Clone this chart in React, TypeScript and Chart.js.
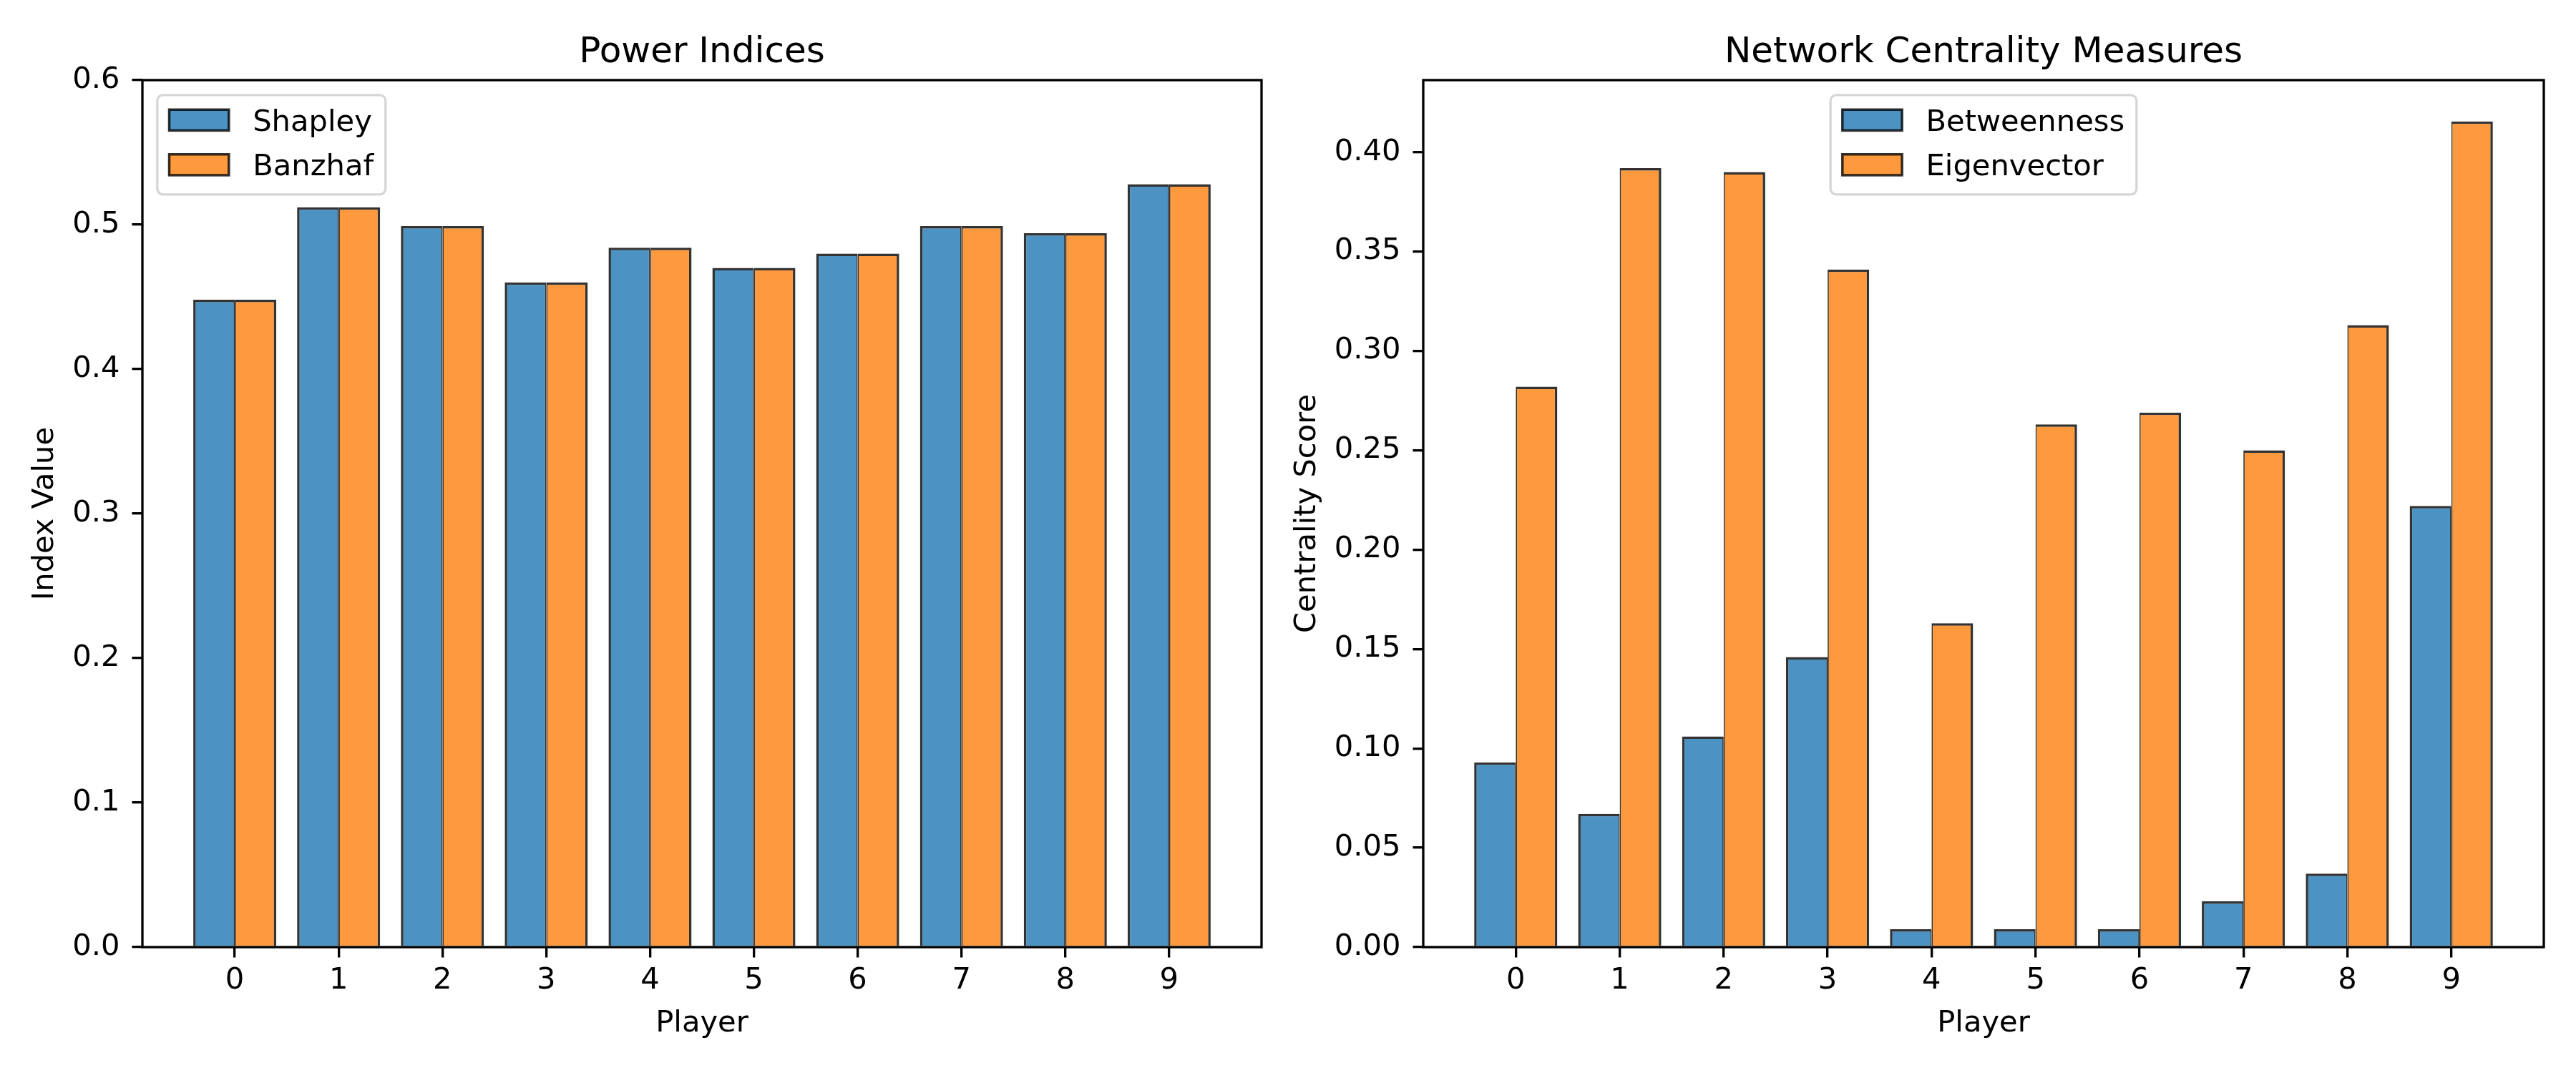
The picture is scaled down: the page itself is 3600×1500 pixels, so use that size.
import React, { useEffect, useRef } from "react";
import { Chart, registerables } from "chart.js";

Chart.register(...registerables);

// ---------- data ----------
const players = ["0", "1", "2", "3", "4", "5", "6", "7", "8", "9"];
const shapley = [0.448, 0.512, 0.499, 0.46, 0.484, 0.47, 0.48, 0.499, 0.494, 0.528];
const banzhaf = [0.448, 0.512, 0.499, 0.46, 0.484, 0.47, 0.48, 0.499, 0.494, 0.528];
const betweenness = [0.093, 0.067, 0.106, 0.146, 0.009, 0.009, 0.009, 0.023, 0.037, 0.222];
const eigenvector = [0.282, 0.392, 0.39, 0.341, 0.163, 0.263, 0.269, 0.25, 0.313, 0.4155];

// ---------- style ----------
const FONT = '"DejaVu Sans", sans-serif';
const EM = 41.67; // 10pt at 300dpi
const TITLE_PX = 50; // 12pt at 300dpi
const BLUE = "rgba(31,119,180,0.8)";
const ORANGE = "rgba(255,127,14,0.8)";
const EDGE = "rgba(0,0,0,0.8)";
const SPINE = 3.33;

Chart.defaults.font.family = FONT;
Chart.defaults.color = "#000";

type PanelSpec = {
  title: string;
  yTitle: string;
  labels: [string, string];
  values: [number[], number[]];
  yMax: number;
  yStep: number;
  yDecimals: number;
  legendAlign: "left" | "center";
  padRight: number;
  yAxisWidth: number;
  yTitlePad: number;
};

function decorPlugin(spec: PanelSpec) {
  return {
    id: "mplDecor",
    afterDatasetsDraw(chart: any) {
      const { ctx, chartArea: ca } = chart;
      ctx.save();
      ctx.strokeStyle = "#000";
      ctx.lineWidth = SPINE;
      ctx.strokeRect(ca.left, ca.top, ca.right - ca.left, ca.bottom - ca.top);
      ctx.restore();
    },
    afterDraw(chart: any) {
      const { ctx, chartArea: ca } = chart;
      ctx.save();
      // title
      ctx.fillStyle = "#000";
      ctx.font = `${TITLE_PX}px ${FONT}`;
      ctx.textAlign = "center";
      ctx.textBaseline = "alphabetic";
      ctx.fillText(spec.title, (ca.left + ca.right) / 2, ca.top - 25);

      // legend
      ctx.font = `${EM}px ${FONT}`;
      const dsets = chart.data.datasets;
      const tw = Math.max(...dsets.map((d: any) => ctx.measureText(d.label).width));
      const w = 0.4 * EM + 2 * EM + 0.8 * EM + tw + 0.4 * EM;
      const h = 139;
      const x0 = spec.legendAlign === "left" ? ca.left + 0.5 * EM : (ca.left + ca.right) / 2 - w / 2;
      const y0 = ca.top + 0.5 * EM;
      ctx.beginPath();
      (ctx as any).roundRect(x0, y0, w, h, 8);
      ctx.fillStyle = "rgba(255,255,255,0.8)";
      ctx.fill();
      ctx.strokeStyle = "rgba(204,204,204,0.8)";
      ctx.lineWidth = SPINE;
      ctx.stroke();
      dsets.forEach((d: any, i: number) => {
        const cy = y0 + 35 + i * 62.5;
        const px = x0 + 0.4 * EM;
        const ph = 0.7 * EM;
        ctx.fillStyle = d.backgroundColor;
        ctx.fillRect(px, cy - ph / 2, 2 * EM, ph);
        ctx.strokeStyle = d.borderColor;
        ctx.lineWidth = 3.5;
        ctx.strokeRect(px, cy - ph / 2, 2 * EM, ph);
        ctx.fillStyle = "#000";
        ctx.textAlign = "left";
        ctx.textBaseline = "alphabetic";
        ctx.fillText(d.label, px + 2.8 * EM, cy + 14.7);
      });
      ctx.restore();
    },
  };
}

function buildConfig(spec: PanelSpec): any {
  const font = { size: EM, family: FONT };
  const gridCommon = {
    drawOnChartArea: false,
    drawTicks: true,
    tickLength: 14.5,
    lineWidth: SPINE,
    color: "#000",
    tickColor: "#000",
    offset: false,
  };
  return {
    type: "bar",
    data: {
      datasets: [0, 1].map((k) => ({
        label: spec.labels[k],
        data: spec.values[k].map((v, i) => ({ x: i, y: v })),
        backgroundColor: k === 0 ? BLUE : ORANGE,
        borderColor: EDGE,
        borderWidth:
          k === 0
            ? { top: 3.5, left: 3.5, right: 1.75, bottom: 0 }
            : { top: 3.5, left: 1.75, right: 3.5, bottom: 0 },
        borderSkipped: false,
        categoryPercentage: 0.8,
        barPercentage: 1.0,
      })),
    },
    options: {
      responsive: false,
      animation: false,
      devicePixelRatio: 1,
      layout: { padding: { left: 0, right: spec.padRight, top: 112, bottom: 44 } },
      plugins: {
        legend: { display: false },
        title: { display: false },
        tooltip: { enabled: false },
      },
      scales: {
        x: {
          type: "linear",
          min: -0.89,
          max: 9.89,
          offset: false,
          afterBuildTicks: (s: any) => {
            s.ticks = players.map((_, i) => ({ value: i }));
          },
          afterFit: (s: any) => {
            s.height = 132;
          },
          grid: gridCommon,
          border: { display: false },
          ticks: {
            callback: (_v: any, i: number) => players[i],
            padding: 7.5,
            color: "#000",
            font,
            maxRotation: 0,
            autoSkip: false,
          },
          title: { display: true, text: "Player", color: "#000", font, padding: { top: 0, bottom: 0 } },
        },
        y: {
          min: 0,
          max: spec.yMax,
          afterFit: (s: any) => {
            s.width = spec.yAxisWidth;
          },
          grid: gridCommon,
          border: { display: false },
          ticks: {
            stepSize: spec.yStep,
            includeBounds: false,
            callback: (v: any) => Number(v).toFixed(spec.yDecimals),
            padding: 17,
            color: "#000",
            font,
          },
          title: {
            display: true,
            text: spec.yTitle,
            color: "#000",
            font,
            padding: { top: spec.yTitlePad, bottom: 0 },
          },
        },
      },
    },
    plugins: [decorPlugin(spec)],
  };
}

function Panel({ spec }: { spec: PanelSpec }) {
  const ref = useRef<HTMLCanvasElement>(null);
  useEffect(() => {
    const chart = new Chart(ref.current as HTMLCanvasElement, buildConfig(spec));
    return () => chart.destroy();
  }, []);
  return (
    <canvas
      ref={ref}
      width={1800}
      height={1500}
      style={{ display: "block", width: 1800, height: 1500 }}
    />
  );
}

const leftSpec: PanelSpec = {
  title: "Power Indices",
  yTitle: "Index Value",
  labels: ["Shapley", "Banzhaf"],
  values: [shapley, banzhaf],
  yMax: 0.6,
  yStep: 0.1,
  yDecimals: 1,
  legendAlign: "left",
  padRight: 37,
  yAxisWidth: 199,
  yTitlePad: 38,
};

const rightSpec: PanelSpec = {
  title: "Network Centrality Measures",
  yTitle: "Centrality Score",
  labels: ["Betweenness", "Eigenvector"],
  values: [betweenness, eigenvector],
  yMax: Math.max(...betweenness, ...eigenvector) * 1.05,
  yStep: 0.05,
  yDecimals: 2,
  legendAlign: "center",
  padRight: 45,
  yAxisWidth: 189,
  yTitlePad: 2,
};

export default function App() {
  return (
    <div
      style={{
        position: "absolute",
        left: 0,
        top: 0,
        width: 3600,
        height: 1500,
        background: "#fff",
        display: "flex",
      }}
    >
      <Panel spec={leftSpec} />
      <Panel spec={rightSpec} />
    </div>
  );
}
